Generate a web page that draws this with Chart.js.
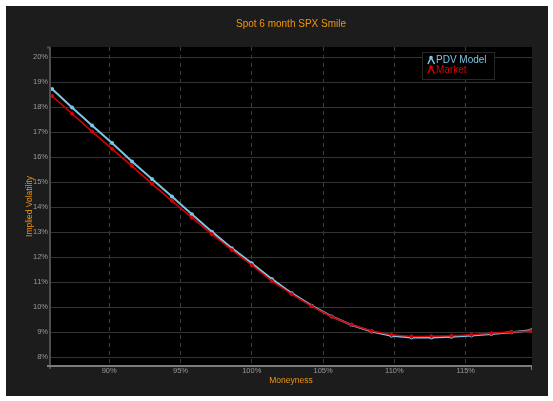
<!DOCTYPE html>
<html>
<head>
<meta charset="utf-8">
<script src="https://cdn.jsdelivr.net/npm/chart.js@4.4.1/dist/chart.umd.min.js"></script>
<style>
  html, body { margin: 0; padding: 0; background: #ffffff; }
  #panel { position: absolute; left: 6px; top: 6px; width: 542px; height: 390px; background: #1c1c1c; }
  canvas { display: block; }
</style>
</head>
<body>
<div id="panel"><canvas id="smile" width="542" height="390"></canvas></div>
<script>
// Moneyness (% of spot) and implied volatility (%) for the 6 month SPX smile
const moneyness = [86.0, 87.4, 88.8, 90.2, 91.6, 93.0, 94.4, 95.8, 97.2, 98.6,
                   100.0, 101.4, 102.8, 104.2, 105.6, 107.0, 108.4, 109.8, 111.2, 112.6,
                   114.0, 115.4, 116.8, 118.2, 119.6];
const pdvModel = [18.72, 17.98, 17.26, 16.56, 15.82, 15.12, 14.42, 13.72, 13.02, 12.36,
                  11.76, 11.13, 10.56, 10.06, 9.63, 9.29, 9.03, 8.86, 8.79, 8.79,
                  8.82, 8.87, 8.93, 9.00, 9.08];
const market = [18.44, 17.73, 17.02, 16.33, 15.64, 14.93, 14.25, 13.58, 12.92, 12.29,
                11.68, 11.05, 10.52, 10.04, 9.62, 9.30, 9.05, 8.90, 8.83, 8.84,
                8.86, 8.90, 8.96, 9.01, 9.05];
const xTickValues = [90, 95, 100, 105, 110, 115];
const yTickValues = [8, 9, 10, 11, 12, 13, 14, 15, 16, 17, 18, 19, 20];

const seriesNames = ['PDV Model', 'Market'];
const seriesColors = ['#7cc6e6', '#d80000'];

const FONT = '"Liberation Sans", Arial, sans-serif';
const ORANGE = '#f0940f';

// Black plot background
const plotBackground = {
  id: 'plotBackground',
  beforeDraw(chart) {
    const { ctx, chartArea: a } = chart;
    ctx.save();
    ctx.fillStyle = '#000000';
    ctx.fillRect(a.left, a.top, a.right - a.left, a.bottom - a.top);
    ctx.restore();
  }
};

// Axis lines with short end ticks
const axisLines = {
  id: 'axisLines',
  afterDraw(chart) {
    const { ctx, chartArea: a } = chart;
    ctx.save();
    ctx.lineWidth = 2;
    ctx.strokeStyle = '#4e4e4e';
    ctx.beginPath();
    ctx.moveTo(a.left - 3, a.top + 0.5);
    ctx.lineTo(a.left, a.top + 0.5);
    ctx.moveTo(a.left, a.top);
    ctx.lineTo(a.left, a.bottom + 3);
    ctx.stroke();
    ctx.strokeStyle = '#7c7c7c';
    ctx.beginPath();
    ctx.moveTo(a.left - 3, a.bottom);
    ctx.lineTo(a.right, a.bottom);
    ctx.stroke();
    ctx.lineWidth = 1;
    ctx.beginPath();
    ctx.moveTo(a.right - 0.5, a.bottom);
    ctx.lineTo(a.right - 0.5, a.bottom + 4);
    ctx.stroke();
    ctx.restore();
  }
};

// Legend box in the upper right of the plot
const insetLegend = {
  id: 'insetLegend',
  afterDraw(chart) {
    const { ctx, chartArea: a } = chart;
    const bx = a.right - 110, by = a.top + 5, bw = 73, bh = 28;
    ctx.save();
    ctx.fillStyle = '#000000';
    ctx.fillRect(bx, by, bw, bh);
    ctx.strokeStyle = '#262626';
    ctx.lineWidth = 1;
    ctx.strokeRect(bx + 0.5, by + 0.5, bw - 1, bh - 1);
    ctx.font = '10px ' + FONT;
    ctx.textBaseline = 'middle';
    chart.data.datasets.forEach((ds, i) => {
      const cy = by + 8.5 + i * 9.5;
      const ix = bx + 6;
      ctx.strokeStyle = ds.borderColor;
      ctx.fillStyle = ds.borderColor;
      ctx.lineWidth = 1.5;
      ctx.beginPath();
      ctx.moveTo(ix, cy + 3.5);
      ctx.lineTo(ix + 3, cy - 3);
      ctx.lineTo(ix + 6.5, cy + 3.5);
      ctx.stroke();
      ctx.beginPath();
      ctx.arc(ix + 3, cy - 3, 1.8, 0, Math.PI * 2);
      ctx.fill();
      ctx.fillText(ds.label, bx + 14, cy);
    });
    ctx.restore();
  }
};

const toPoints = ys => moneyness.map((m, i) => ({ x: m, y: ys[i] }));

new Chart(document.getElementById('smile'), {
  type: 'line',
  data: {
    datasets: [
      {
        label: seriesNames[0],
        data: toPoints(pdvModel),
        borderColor: seriesColors[0],
        backgroundColor: seriesColors[0],
        borderWidth: 2,
        pointRadius: 2,
        pointBorderWidth: 0,
        pointBackgroundColor: seriesColors[0],
        tension: 0,
        order: 2
      },
      {
        label: seriesNames[1],
        data: toPoints(market),
        borderColor: seriesColors[1],
        backgroundColor: seriesColors[1],
        borderWidth: 1.5,
        pointStyle: 'rectRot',
        pointRadius: 2.5,
        pointBorderWidth: 0,
        pointBackgroundColor: seriesColors[1],
        tension: 0,
        order: 1
      }
    ]
  },
  options: {
    responsive: false,
    animation: false,
    devicePixelRatio: 1,
    layout: { padding: { left: 0, right: 16, top: 0, bottom: 0 } },
    plugins: {
      legend: { display: false },
      tooltip: { enabled: false },
      title: {
        display: true,
        text: 'Spot 6 month SPX Smile',
        color: ORANGE,
        fullSize: false,
        font: { family: FONT, size: 10, weight: 'normal' },
        padding: { top: 12, bottom: 17 }
      }
    },
    scales: {
      x: {
        type: 'linear',
        min: 85.85,
        max: 119.65,
        afterBuildTicks: s => { s.ticks = xTickValues.map(v => ({ value: v })); },
        afterFit: s => { s.height = 30; },
        grid: { color: '#3e3e3e', lineWidth: 1, drawTicks: false },
        border: { display: false, dash: [4, 4] },
        ticks: {
          color: '#9a9a9a',
          font: { family: FONT, size: 7.5 },
          padding: 0,
          autoSkip: false,
          maxRotation: 0,
          callback: v => v + '%'
        },
        title: {
          display: true,
          text: 'Moneyness',
          color: ORANGE,
          font: { family: FONT, size: 8.5 },
          padding: { top: 10, bottom: 10 }
        }
      },
      y: {
        type: 'linear',
        min: 7.65,
        max: 20.4,
        afterBuildTicks: s => { s.ticks = yTickValues.map(v => ({ value: v })); },
        afterFit: s => { s.width = 44; },
        grid: { color: '#333333', lineWidth: 1, drawTicks: false },
        border: { display: false },
        ticks: {
          color: '#9a9a9a',
          font: { family: FONT, size: 7.5 },
          padding: 2,
          autoSkip: false,
          callback: v => v + '%'
        },
        title: {
          display: true,
          text: 'Implied Volatility',
          color: ORANGE,
          font: { family: FONT, size: 8.5 },
          padding: { top: 19, bottom: 19 }
        }
      }
    }
  },
  plugins: [plotBackground, axisLines, insetLegend]
});
</script>
</body>
</html>
